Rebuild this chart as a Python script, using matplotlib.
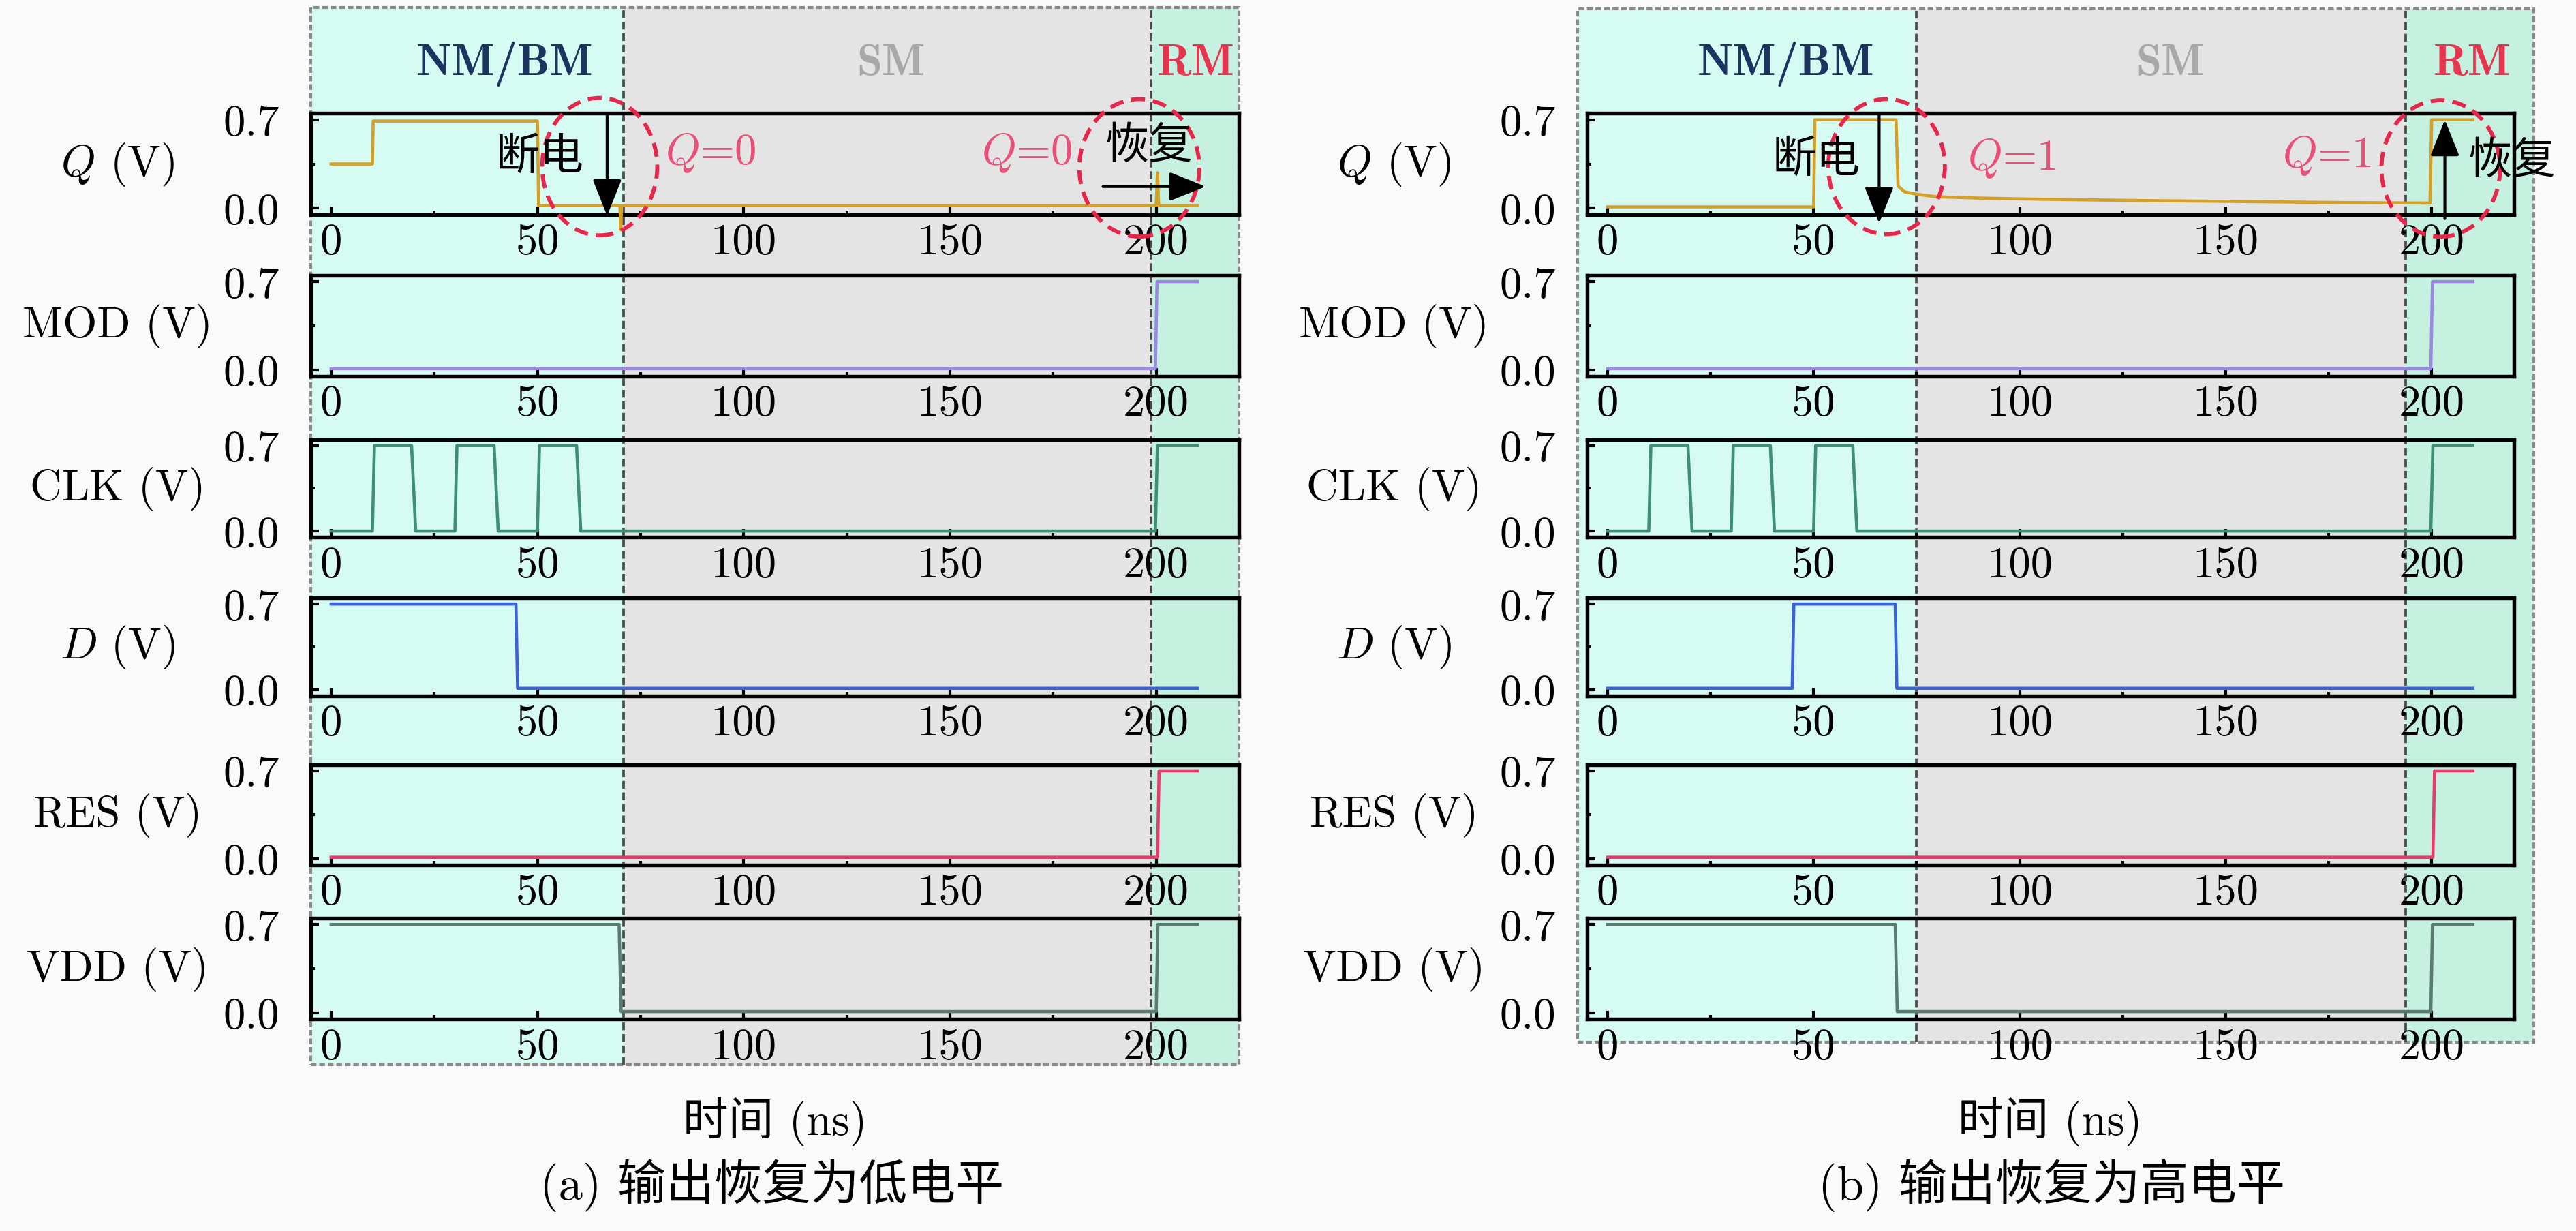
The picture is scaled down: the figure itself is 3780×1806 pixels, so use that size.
import matplotlib
matplotlib.use("Agg")
import matplotlib.pyplot as plt
from matplotlib.patches import Rectangle, Ellipse
from matplotlib.lines import Line2D
from matplotlib.transforms import blended_transform_factory as btf

plt.rcParams['font.family'] = ['cmr10', 'Noto Sans CJK SC', 'DejaVu Sans']
plt.rcParams['mathtext.fontset'] = 'cm'
plt.rcParams['axes.formatter.use_mathtext'] = True
plt.rcParams['axes.unicode_minus'] = False

# ---------------- data ----------------
signal_names = ['$Q$ (V)', 'MOD (V)', 'CLK (V)', '$D$ (V)', 'RES (V)', 'VDD (V)']
x_ticks = [0, 50, 100, 150, 200]
x_tick_labels = ['0', '50', '100', '150', '200']
y_ticks = [0.0, 0.7]
y_tick_labels = ['0.0', '0.7']

# panel (a): output restored to low level
t_q_a = [0, 10, 10.2, 50, 50.3, 70, 70.2, 70.4, 200, 200.3, 200.6, 210]
v_q_a = [0.35, 0.35, 0.69, 0.69, 0.02, 0.02, -0.17, 0.02, 0.02, 0.28, 0.02, 0.02]
t_mod_a = [0, 199.8, 200.2, 210]
v_mod_a = [0.01, 0.01, 0.70, 0.70]
t_clk_a = [0, 10, 10.5, 19.5, 20.5, 30, 30.5, 39.5, 40.5, 50, 50.5, 59.5, 60.5, 199.8, 200.3, 210]
v_clk_a = [0, 0, 0.7, 0.7, 0, 0, 0.7, 0.7, 0, 0, 0.7, 0.7, 0, 0, 0.7, 0.7]
t_d_a = [0, 44.8, 45.2, 210]
v_d_a = [0.70, 0.70, 0.01, 0.01]
t_res_a = [0, 200.3, 200.7, 210]
v_res_a = [0.01, 0.01, 0.70, 0.70]
t_vdd_a = [0, 69.8, 70.3, 200.0, 200.4, 210]
v_vdd_a = [0.70, 0.70, 0.01, 0.01, 0.70, 0.70]

# panel (b): output restored to high level
t_q_b = [0, 50, 50.3, 70, 70.5, 72, 75, 80, 90, 106, 130, 155, 175, 199.6, 200.0, 210]
v_q_b = [0.01, 0.01, 0.70, 0.70, 0.175, 0.13, 0.11, 0.09, 0.08, 0.07, 0.06, 0.052, 0.045, 0.04, 0.70, 0.70]
t_mod_b = [0, 199.8, 200.2, 210]
v_mod_b = [0.01, 0.01, 0.70, 0.70]
t_clk_b = [0, 10, 10.5, 19.5, 20.5, 30, 30.5, 39.5, 40.5, 50, 50.5, 59.5, 60.5, 199.8, 200.3, 210]
v_clk_b = [0, 0, 0.7, 0.7, 0, 0, 0.7, 0.7, 0, 0, 0.7, 0.7, 0, 0, 0.7, 0.7]
t_d_b = [0, 44.8, 45.2, 69.8, 70.2, 210]
v_d_b = [0.01, 0.01, 0.70, 0.70, 0.01, 0.01]
t_res_b = [0, 200.3, 200.7, 210]
v_res_b = [0.01, 0.01, 0.70, 0.70]
t_vdd_b = [0, 69.8, 70.3, 199.8, 200.2, 210]
v_vdd_b = [0.70, 0.70, 0.01, 0.01, 0.70, 0.70]

# mode boundaries (ns)
modes_a = [-4.9, 70.9, 198.7, 220.0]
modes_b = [-7.2, 75.0, 193.7, 224.7]
mode_names = ['NM/BM', 'SM', 'RM']
mode_label_x_a = [42.0, 135.7, 209.6]
mode_label_x_b = [43.2, 136.5, 209.8]

# ---------------- style ----------------
sig_colors = ['#D4A028', '#9b87e6', '#3f8f76', '#3b62d6', '#e83a6a', '#5b7b70']
region_colors = ['#D6FBF3', '#E4E4E4', '#C6F1E1']
mode_text_colors = ['#1D3461', '#A8A8A8', '#E8354F']
red = '#E8264C'
pink = '#E8507A'

W, H = 1568.0, 750.0
def fx(p): return p / W
def fy(p): return 1 - p / H

ROW_TOP = [69.5, 168.0, 268.0, 364.5, 466.0, 559.5]
ROW_BOT = [131.0, 229.5, 327.5, 424.0, 527.0, 621.0]

fig = plt.figure(figsize=(12.6, 6.0233), dpi=300, facecolor='#fafafa')

FS = 15.5

def make_panel(left, right, series, modes, mode_x, box_top, box_bot):
    axes = []
    for i, (t, v) in enumerate(series):
        ax = fig.add_axes([fx(left), fy(ROW_BOT[i]), fx(right) - fx(left),
                           (ROW_BOT[i] - ROW_TOP[i]) / H])
        ax.set_facecolor('none')
        ax.plot(t, v, color=sig_colors[i], lw=1.1, clip_on=False, zorder=3)
        ax.set_xlim(-5, 220)
        ax.set_ylim(-0.05, 0.75)
        ax.set_xticks(x_ticks, x_tick_labels)
        ax.set_xticks([25, 75, 125, 175], minor=True)
        ax.set_yticks(y_ticks, y_tick_labels)
        ax.set_yticks([0.35], minor=True)
        ax.tick_params(which='both', direction='in', top=False, right=False,
                       width=1.0, labelsize=FS)
        ax.tick_params(which='major', length=2.8)
        ax.tick_params(which='minor', length=1.4)
        ax.tick_params(axis='y', pad=11.0)
        ax.tick_params(axis='x', pad=3.0)
        for s in ax.spines.values():
            s.set_linewidth(1.3)
            s.set_color('black')
        ax.set_ylabel(signal_names[i], rotation=0, ha='center', va='center', fontsize=FS)
        ax.yaxis.set_label_coords(-0.208, 0.5)
        axes.append(ax)
    tr = btf(axes[0].transData, fig.transFigure)
    yb, yt = fy(box_bot), fy(box_top)
    for k in range(3):
        fig.add_artist(Rectangle((modes[k], yb), modes[k + 1] - modes[k], yt - yb,
                                 transform=tr, facecolor=region_colors[k],
                                 edgecolor='none', zorder=-10))
    fig.add_artist(Rectangle((modes[0], yb), modes[3] - modes[0], yt - yb,
                             transform=tr, fill=False, edgecolor='#8a8a8a',
                             lw=1.0, ls=(0, (2, 1)), zorder=-5))
    for k in (1, 2):
        fig.add_artist(Line2D([modes[k], modes[k]], [yb, yt], transform=tr,
                              color='#4a4a4a', lw=0.9, ls=(0, (3, 1.5)), zorder=-4))
    for k in range(3):
        fig.text(mode_x[k], fy(39), mode_names[k], transform=tr, ha='center',
                 va='center', fontsize=16, family='cmb10', color=mode_text_colors[k])
    return axes

series_a = [(t_q_a, v_q_a), (t_mod_a, v_mod_a), (t_clk_a, v_clk_a),
            (t_d_a, v_d_a), (t_res_a, v_res_a), (t_vdd_a, v_vdd_a)]
series_b = [(t_q_b, v_q_b), (t_mod_b, v_mod_b), (t_clk_b, v_clk_b),
            (t_d_b, v_d_b), (t_res_b, v_res_b), (t_vdd_b, v_vdd_b)]

axA = make_panel(189, 754, series_a, modes_a, mode_label_x_a, 4.8, 648.8)
axB = make_panel(966, 1530.3, series_b, modes_b, mode_label_x_b, 5.6, 635.0)

def ell(ax, x, y, w, h):
    ax.add_patch(Ellipse((x, y), w, h, fill=False, edgecolor=red, lw=1.4,
                         ls=(0, (3.5, 2)), clip_on=False, zorder=6))

def arrow(ax, x0, y0, x1, y1):
    ax.annotate('', xy=(x1, y1), xytext=(x0, y0),
                arrowprops=dict(arrowstyle='-|>,head_length=0.55,head_width=0.22',
                                mutation_scale=20, color='black', lw=1.0,
                                shrinkA=0, shrinkB=0),
                annotation_clip=False, zorder=7)

# panel (a) annotations
qa = axA[0]
ell(qa, 65.1, 0.329, 27.9, 1.089)
ell(qa, 195.9, 0.319, 29.1, 1.089)
arrow(qa, 66.9, 0.75, 66.9, -0.06)
arrow(qa, 187.1, 0.171, 212.0, 0.171)
qa.text(50.6, 0.40, '断电', ha='center', va='center', fontsize=FS, zorder=8)
qa.text(91.9, 0.44, '$Q$=0', ha='center', va='center', fontsize=FS, color=pink, zorder=8)
qa.text(168.6, 0.44, '$Q$=0', ha='center', va='center', fontsize=FS, color=pink, zorder=8)
qa.text(198.2, 0.49, '恢复', ha='center', va='center', fontsize=FS, zorder=8)

# panel (b) annotations
qb = axB[0]
ell(qb, 67.7, 0.329, 28.3, 1.07)
ell(qb, 202.2, 0.314, 28.8, 1.081)
arrow(qb, 65.9, 0.75, 65.9, -0.12)
arrow(qb, 203.2, -0.083, 203.2, 0.70)
qb.text(50.6, 0.38, '断电', ha='center', va='center', fontsize=FS, zorder=8)
qb.text(98.2, 0.40, '$Q$=1', ha='center', va='center', fontsize=FS, color=pink, zorder=8)
qb.text(174.6, 0.42, '$Q$=1', ha='center', va='center', fontsize=FS, color=pink, zorder=8)
qb.text(219.5, 0.37, '恢复', ha='center', va='center', fontsize=FS, zorder=8)

# axis titles and captions
fig.text(fx(471.8), fy(683), '时间 (ns)', ha='center', va='center', fontsize=16)
fig.text(fx(1247.7), fy(683), '时间 (ns)', ha='center', va='center', fontsize=16)
fig.text(fx(470), fy(722), '(a) 输出恢复为低电平', ha='center', va='center', fontsize=17)
fig.text(fx(1249), fy(722), '(b) 输出恢复为高电平', ha='center', va='center', fontsize=17)

fig.savefig('out.png', dpi=300, facecolor=fig.get_facecolor())
